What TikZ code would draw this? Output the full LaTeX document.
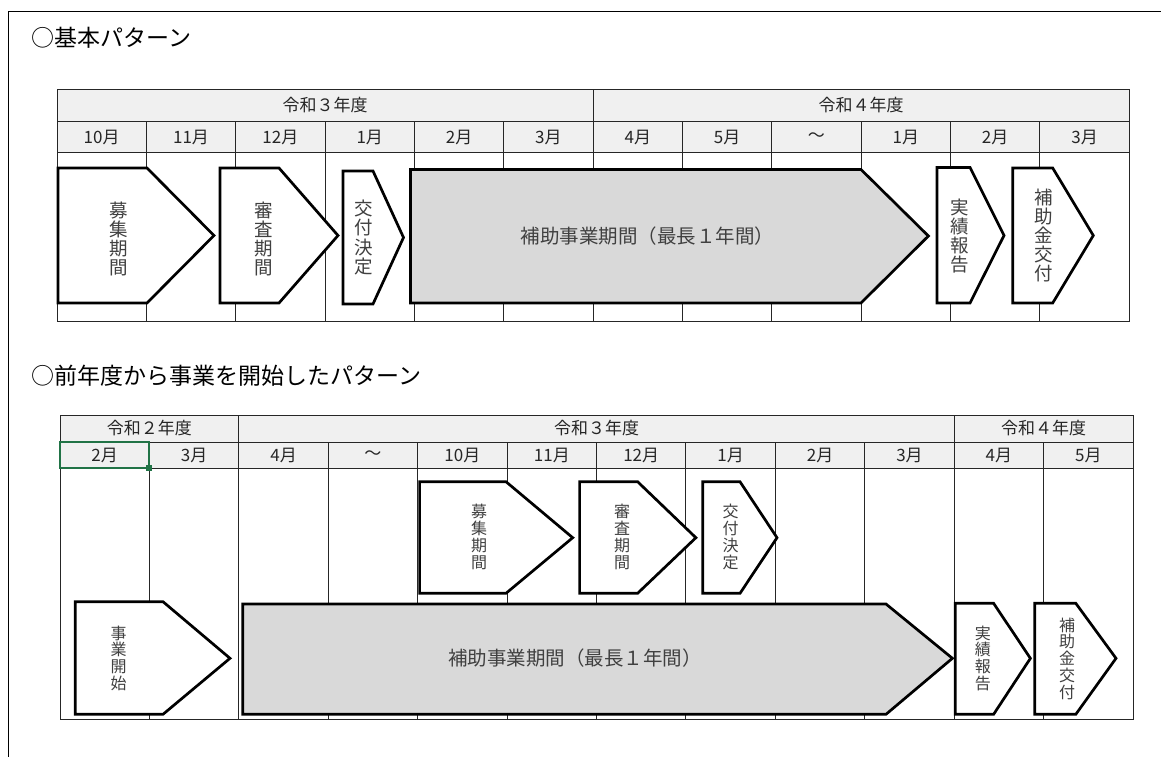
\documentclass[tikz,border=0pt]{standalone}
\usepackage{fontspec}
\setmainfont{Noto Sans CJK JP}
\definecolor{selgreen}{HTML}{217346}
\begin{document}
\begin{tikzpicture}[x=1pt,y=-1pt,
  grid/.style={draw=black!85,line width=1pt},
  head/.style={fill=black!6},
  stage/.style={draw=black,line width=2.7pt,fill=white},
  busy/.style={draw=black,line width=2.7pt,fill=black!15},
  vtext/.style={align=center,inner sep=0pt,text=black!75,font=\fontsize{18.5}{19.2}\selectfont},
  vsmall/.style={align=center,inner sep=0pt,text=black!75,font=\fontsize{16}{16.8}\selectfont},
  btext/.style={inner sep=0pt,text=black!75,font=\fontsize{19.5}{22}\selectfont},
  htext/.style={inner sep=0pt,text=black!85,font=\fontsize{17}{20}\selectfont},
  title/.style={anchor=west,inner sep=0pt,font=\fontsize{23}{26}\selectfont}]
\useasboundingbox (0,0) rectangle (1161,756);
\draw[line width=1pt] (1170,11) -- (8,11) -- (8,770);

% basic pattern
\node[title] (title1) at (31,38) {○基本パターン};
\fill[head] (57,89) rectangle (1129.2,152.7);
\draw[grid] (57,89) rectangle (1129.2,321);
\draw[grid] (57,121) -- (1129.2,121);
\draw[grid] (57,152.7) -- (1129.2,152.7);
\draw[grid] (593.1,89) -- (593.1,121);
\foreach \i in {1,...,11}
  \draw[grid] ({57+89.35*\i},121) -- ({57+89.35*\i},321);
\node[htext] (yearA3) at (325,105) {令和３年度};
\node[htext] (yearA4) at (861,105) {令和４年度};
\foreach \m [count=\i from 0] in {10月,11月,12月,1月,2月,3月,4月,5月,～,1月,2月,3月}
  \node[htext] (monA\i) at ({57+89.35*(\i+0.5)},137) {\m};

\draw[stage] (58,168) -- (147,168) -- (214,235.5) -- (147,303) -- (58,303) -- cycle;
\draw[stage] (220,168) -- (279,168) -- (338,235.5) -- (279,303) -- (220,303) -- cycle;
\draw[stage] (343,171) -- (373,171) -- (403.5,237.5) -- (373,304) -- (343,304) -- cycle;
\draw[busy] (410.5,169.5) -- (861,169.5) -- (928.4,236) -- (861,303) -- (410.5,303) -- cycle;
\draw[stage] (937,167.5) -- (970,167.5) -- (1004,235.5) -- (970,303) -- (937,303) -- cycle;
\draw[stage] (1012.7,168) -- (1052.7,168) -- (1093.3,235.5) -- (1052.7,303) -- (1012.7,303) -- cycle;
\node[vtext] (boshuA) at (119,239) {募\\集\\期\\間};
\node[vtext] (shinsaA) at (264,239) {審\\査\\期\\間};
\node[vtext] (kofuA) at (363.4,237.5) {交\\付\\決\\定};
\node[btext] (hojoA) at (647.5,236) {補助事業期間（最長１年間）};
\node[vtext] (jissekiA) at (959.6,236) {実\\績\\報\\告};
\node[vtext] (kinA) at (1043.6,235.5) {補\\助\\金\\交\\付};

% pattern started in the previous year
\node[title] (title2) at (31,376) {○前年度から事業を開始したパターン};
\fill[head] (60,415) rectangle (1133,468.3);
\draw[grid] (60,415) rectangle (1133,719.3);
\draw[grid] (60,442) -- (1133,442);
\draw[grid] (60,468.3) -- (1133,468.3);
\draw[grid] (238.8,415) -- (238.8,442);
\draw[grid] (954.2,415) -- (954.2,442);
\foreach \i in {1,...,11}
  \draw[grid] ({60+89.42*\i},442) -- ({60+89.42*\i},719.3);
\node[htext] (yearB2) at (149.4,428.5) {令和２年度};
\node[htext] (yearB3) at (596.5,428.5) {令和３年度};
\node[htext] (yearB4) at (1043.6,428.5) {令和４年度};
\foreach \m [count=\i from 0] in {2月,3月,4月,～,10月,11月,12月,1月,2月,3月,4月,5月}
  \node[htext] (monB\i) at ({60+89.42*(\i+0.5)},455) {\m};
\draw[selgreen,line width=2pt] (60,442) rectangle (149.4,468.3);
\fill[selgreen] (146.4,465.3) rectangle (152.4,471.3);

\draw[stage] (75.2,601.7) -- (163,601.7) -- (230,658.3) -- (163,714.3) -- (75.2,714.3) -- cycle;
\draw[busy] (242.8,604) -- (886,604) -- (952.4,658.3) -- (886,714.3) -- (242.8,714.3) -- cycle;
\draw[stage] (419.6,481.7) -- (506,481.7) -- (572.7,537.7) -- (506,593.3) -- (419.6,593.3) -- cycle;
\draw[stage] (579.6,481.7) -- (637.6,481.7) -- (695.9,537.7) -- (637.6,593.3) -- (579.6,593.3) -- cycle;
\draw[stage] (702.7,481.7) -- (740,481.7) -- (777,537.7) -- (740,593.3) -- (702.7,593.3) -- cycle;
\draw[stage] (955.3,603.3) -- (993.6,603.3) -- (1030.4,658.3) -- (993.6,714.3) -- (955.3,714.3) -- cycle;
\draw[stage] (1034.7,603.3) -- (1075.8,603.3) -- (1116,658.3) -- (1075.8,714.3) -- (1034.7,714.3) -- cycle;
\node[vsmall] (kaishiB) at (118.5,658.3) {事\\業\\開\\始};
\node[btext] (hojoB) at (575,658.3) {補助事業期間（最長１年間）};
\node[vsmall] (boshuB) at (479,537) {募\\集\\期\\間};
\node[vsmall] (shinsaB) at (622,537) {審\\査\\期\\間};
\node[vsmall] (kofuB) at (730.6,537) {交\\付\\決\\定};
\node[vsmall] (jissekiB) at (982.8,658.3) {実\\績\\報\\告};
\node[vsmall] (kinB) at (1067,658.7) {補\\助\\金\\交\\付};
\end{tikzpicture}
\end{document}
